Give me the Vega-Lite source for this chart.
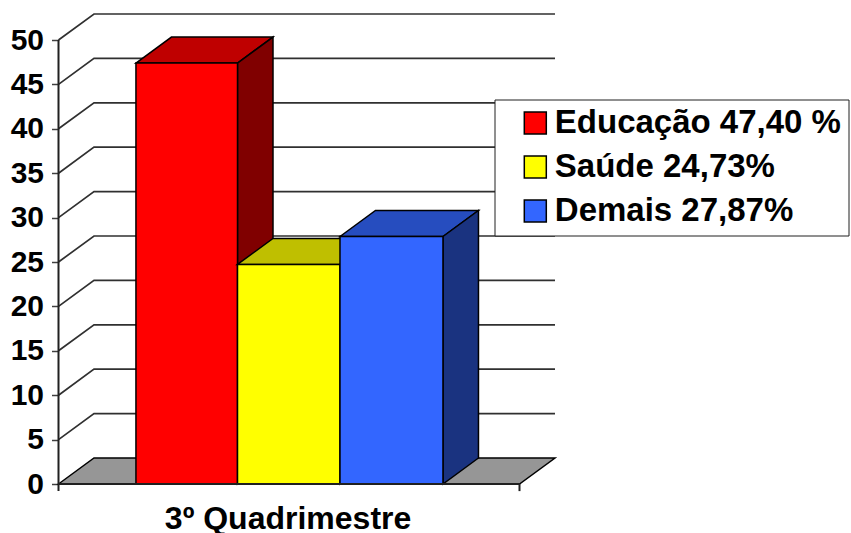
{"$schema":"https://vega.github.io/schema/vega-lite/v6.json","width":851,"height":533,"autosize":"none","padding":0,"background":"white","config":{"view":{"stroke":null},"font":"Liberation Sans"},"datasets":{"grid":[
{"id":5,"u":0,"v":5},{"id":5,"u":0.077,"v":7.93},{"id":5,"u":1.077,"v":7.93},
{"id":10,"u":0,"v":10},{"id":10,"u":0.077,"v":12.93},{"id":10,"u":1.077,"v":12.93},
{"id":15,"u":0,"v":15},{"id":15,"u":0.077,"v":17.93},{"id":15,"u":1.077,"v":17.93},
{"id":20,"u":0,"v":20},{"id":20,"u":0.077,"v":22.93},{"id":20,"u":1.077,"v":22.93},
{"id":25,"u":0,"v":25},{"id":25,"u":0.077,"v":27.93},{"id":25,"u":1.077,"v":27.93},
{"id":30,"u":0,"v":30},{"id":30,"u":0.077,"v":32.93},{"id":30,"u":1.077,"v":32.93},
{"id":35,"u":0,"v":35},{"id":35,"u":0.077,"v":37.93},{"id":35,"u":1.077,"v":37.93},
{"id":40,"u":0,"v":40},{"id":40,"u":0.077,"v":42.93},{"id":40,"u":1.077,"v":42.93},
{"id":45,"u":0,"v":45},{"id":45,"u":0.077,"v":47.93},{"id":45,"u":1.077,"v":47.93},
{"id":50,"u":0,"v":50},{"id":50,"u":0.077,"v":52.93},{"id":50,"u":1.077,"v":52.93}
],"faces":[
{"face":"Piso","u":0,"v":0,"v2":0},{"face":"Piso","u":0.077,"v":2.93,"v2":0},{"face":"Piso","u":1,"v":2.93,"v2":0},{"face":"Piso","u":1.077,"v":2.93,"v2":2.93},
{"face":"Educação topo","u":0.168,"v":47.4,"v2":47.4},{"face":"Educação topo","u":0.245,"v":50.33,"v2":47.4},{"face":"Educação topo","u":0.3883,"v":50.33,"v2":47.4},{"face":"Educação topo","u":0.4653,"v":50.33,"v2":50.33},
{"face":"Educação lado","u":0.3883,"v":47.4,"v2":0},{"face":"Educação lado","u":0.4653,"v":50.33,"v2":2.93},
{"face":"Educação 47,40 %  ","u":0.168,"v":47.4,"v2":0},{"face":"Educação 47,40 %  ","u":0.3883,"v":47.4,"v2":0},
{"face":"Saúde topo","u":0.3883,"v":24.73,"v2":24.73},{"face":"Saúde topo","u":0.4653,"v":27.66,"v2":24.73},{"face":"Saúde topo","u":0.6106,"v":27.66,"v2":24.73},{"face":"Saúde topo","u":0.6876,"v":27.66,"v2":27.66},
{"face":"Saúde lado","u":0.6106,"v":24.73,"v2":0},{"face":"Saúde lado","u":0.6876,"v":27.66,"v2":2.93},
{"face":"Saúde 24,73%","u":0.3883,"v":24.73,"v2":0},{"face":"Saúde 24,73%","u":0.6106,"v":24.73,"v2":0},
{"face":"Demais topo","u":0.6106,"v":27.87,"v2":27.87},{"face":"Demais topo","u":0.6876,"v":30.8,"v2":27.87},{"face":"Demais topo","u":0.834,"v":30.8,"v2":27.87},{"face":"Demais topo","u":0.911,"v":30.8,"v2":30.8},
{"face":"Demais lado","u":0.834,"v":27.87,"v2":0},{"face":"Demais lado","u":0.911,"v":30.8,"v2":2.93},
{"face":"Demais 27,87%","u":0.6106,"v":27.87,"v2":0},{"face":"Demais 27,87%","u":0.834,"v":27.87,"v2":0}
],"frame":[
{"id":"eixo y","u":0,"v":50},{"id":"eixo y","u":0,"v":-0.8},
{"id":"eixo x","u":0,"v":0},{"id":"eixo x","u":1,"v":0},
{"id":"marca x","u":1,"v":0},{"id":"marca x","u":1,"v":-0.8}
]},
"encoding":{"x":{"field":"u","type":"quantitative","scale":{"domain":[-0.1269,1.7191],"nice":false,"zero":false},"axis":null},"y":{"field":"v","type":"quantitative","stack":null,"scale":{"domain":[-5.518,54.505],"nice":false,"zero":false},"axis":{"orient":"left","offset":-58.5,"title":null,"values":[0,5,10,15,20,25,30,35,40,45,50],"domain":false,"grid":false,"tickSize":7,"tickColor":"#404040","tickWidth":1.5,"labelFont":"Liberation Sans","labelFontWeight":"bold","labelFontSize":30,"labelColor":"black","labelPadding":8,"labelOverlap":false,"labelBound":false}}},
"layer":[
{"data":{"name":"grid"},"mark":{"type":"line","color":"#303030","strokeWidth":1.7},"encoding":{"detail":{"field":"id"}}},
{"data":{"name":"faces"},"mark":{"type":"area","stroke":"black","strokeWidth":1.5,"opacity":1},"encoding":{"y2":{"field":"v2"},"color":{"field":"face","type":"nominal","scale":{"domain":["Piso","Educação topo","Educação lado","Educação 47,40 %  ","Saúde topo","Saúde lado","Saúde 24,73%","Demais topo","Demais lado","Demais 27,87%"],"range":["#969696","#BF0000","#800000","#FF0000","#BFBF00","#808000","#FFFF00","#264DBF","#1A3380","#3366FF"]},"legend":{"orient":"none","legendX":494.5,"legendY":99.5,"title":null,"values":["Educação 47,40 %  ","Saúde 24,73%","Demais 27,87%"],"fillColor":"white","strokeColor":"#202020","padding":7,"symbolType":"square","symbolSize":484,"symbolStrokeColor":"black","symbolStrokeWidth":1.5,"symbolOffset":17.3,"labelFont":"Liberation Sans","labelFontWeight":"bold","labelFontSize":33,"labelColor":"black","labelOffset":3,"labelLimit":400,"rowPadding":10}}}},
{"data":{"name":"frame"},"mark":{"type":"line","color":"#202020","strokeWidth":2},"encoding":{"detail":{"field":"id"}}},
{"data":{"values":[{"u":0.498,"v":-5.07,"rotulo":"3º Quadrimestre"}]},"mark":{"type":"text","font":"Liberation Sans","fontWeight":"bold","fontSize":32,"baseline":"alphabetic","align":"center","color":"black"},"encoding":{"text":{"field":"rotulo"}}}
]}
